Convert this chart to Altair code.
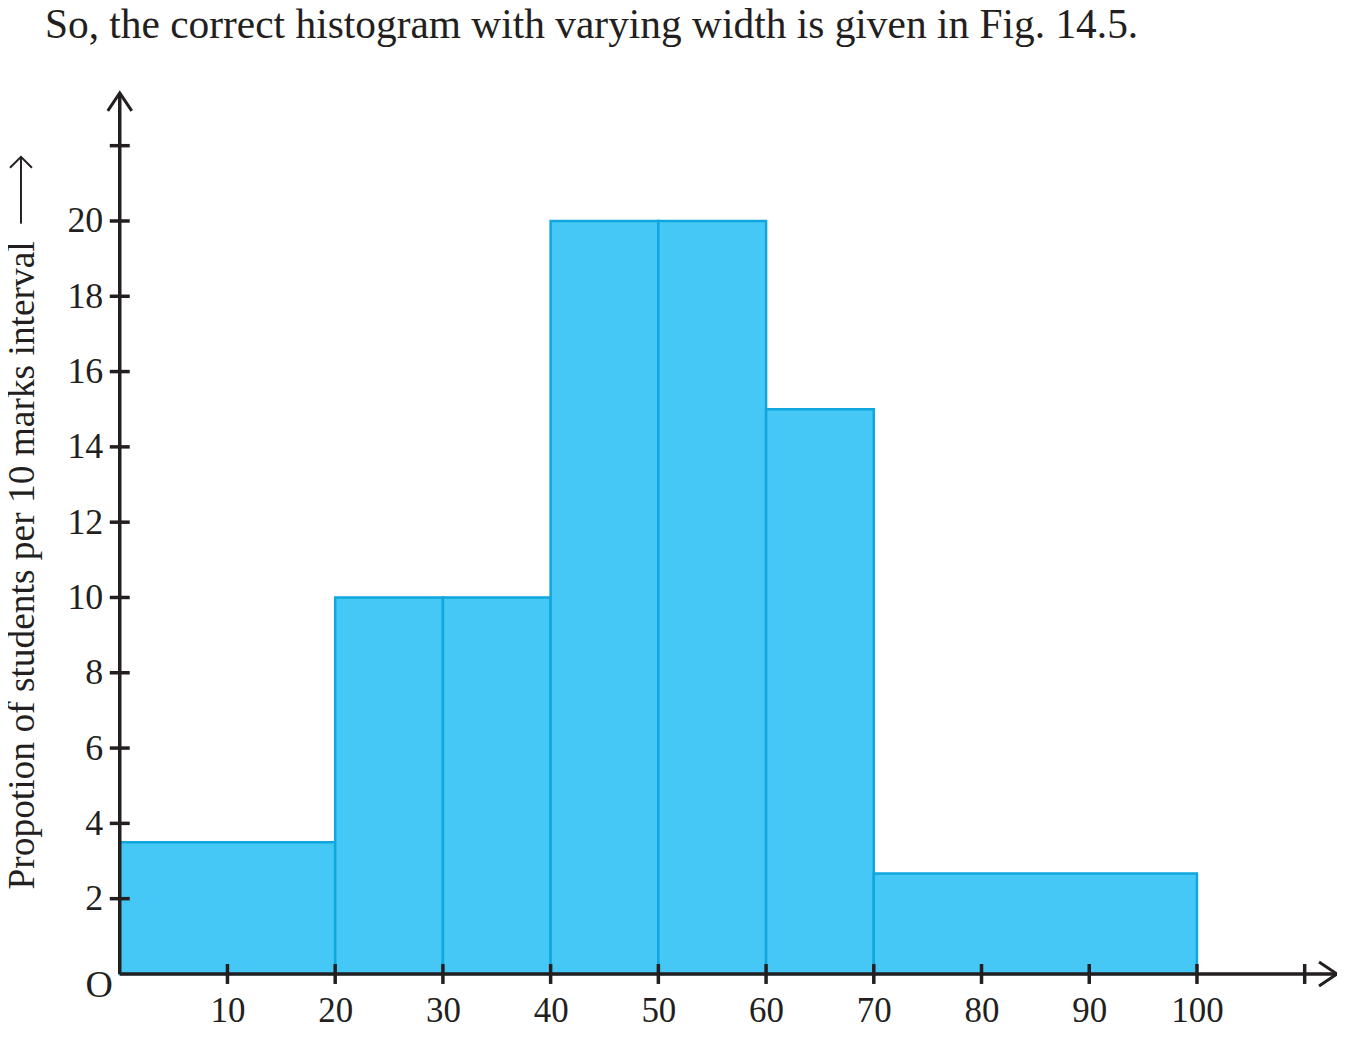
import altair as alt
import pandas as pd

# Histogram bins (varying width) and adjusted heights
bin_start = [0, 20, 30, 40, 50, 60, 70]
bin_end = [20, 30, 40, 50, 60, 70, 100]
heights = [3.5, 10, 10, 20, 20, 15, 8 / 3]

x_tick_values = [10, 20, 30, 40, 50, 60, 70, 80, 90, 100, 110]
x_label_values = [10, 20, 30, 40, 50, 60, 70, 80, 90, 100]
y_tick_values = [2, 4, 6, 8, 10, 12, 14, 16, 18, 20, 22]
y_label_values = [2, 4, 6, 8, 10, 12, 14, 16, 18, 20]

X_MAX = 113.0
Y_MAX = 23.4

title_text = ["So, the correct histogram with varying width is given in Fig. 14.5."]
y_title = "Propotion of students per 10 marks interval"

INK = "#231f20"
FONT = "Liberation Serif"

bars_df = pd.DataFrame({"start": bin_start, "end": bin_end, "h": heights, "base": [0] * len(heights)})
xt_df = pd.DataFrame({"x": x_tick_values, "y": [0] * len(x_tick_values)})
yt_df = pd.DataFrame({"y": y_tick_values, "x": [0] * len(y_tick_values)})
xaxis_df = pd.DataFrame({"x": [0], "x2": [X_MAX], "y": [0]})
yaxis_df = pd.DataFrame({"y": [0], "y2": [Y_MAX], "x": [0]})
arrow_x_df = pd.DataFrame({"x": [X_MAX], "y": [0]})
arrow_y_df = pd.DataFrame({"x": [0], "y": [Y_MAX]})
origin_df = pd.DataFrame({"x": [0], "y": [0], "t": ["O"]})
note_df = pd.DataFrame({"k": [0]})
title_df = pd.DataFrame({"t": title_text})

xscale = alt.Scale(domain=[0, X_MAX], nice=False, zero=False)
yscale = alt.Scale(domain=[0, Y_MAX], nice=False, zero=False)

xaxis = alt.Axis(values=x_label_values, domain=False, ticks=False, grid=False,
                 labelFont=FONT, labelFontSize=35, labelColor=INK, labelPadding=20,
                 title=None, labelFlush=False)
yaxis = alt.Axis(values=y_label_values, domain=False, ticks=False, grid=False,
                 labelFont=FONT, labelFontSize=36, labelColor=INK, labelPadding=17,
                 title=y_title, titleFont=FONT, titleFontSize=37.5, titleFontWeight="normal",
                 titleColor=INK, titleAngle=270, titleBaseline="middle", titleAlign="center",
                 titleX=-97, titleY=473)

bars = alt.Chart(bars_df).mark_rect(fill="#45c8f5", stroke="#10a6de", strokeWidth=2.5).encode(
    x=alt.X("start:Q", scale=xscale, axis=xaxis),
    x2="end:Q",
    y=alt.Y("h:Q", scale=yscale, axis=yaxis),
    y2="base:Q",
)

x_line = alt.Chart(xaxis_df).mark_rule(color=INK, strokeWidth=3.5).encode(
    x=alt.X("x:Q", scale=xscale), x2="x2:Q", y=alt.Y("y:Q", scale=yscale))
y_line = alt.Chart(yaxis_df).mark_rule(color=INK, strokeWidth=3.5).encode(
    y=alt.Y("y:Q", scale=yscale), y2="y2:Q", x=alt.X("x:Q", scale=xscale))

x_ticks = alt.Chart(xt_df).mark_tick(orient="vertical", size=20, thickness=3.5, color=INK, opacity=1).encode(
    x=alt.X("x:Q", scale=xscale), y=alt.Y("y:Q", scale=yscale))
y_ticks = alt.Chart(yt_df).mark_tick(orient="horizontal", size=20, thickness=3.5, color=INK, opacity=1).encode(
    x=alt.X("x:Q", scale=xscale), y=alt.Y("y:Q", scale=yscale))

arrow_x = alt.Chart(arrow_x_df).mark_point(
    shape="M -1.5 -1 L 0 0 L -1.5 1", size=576, filled=False, stroke=INK, strokeWidth=3, opacity=1
).encode(x=alt.X("x:Q", scale=xscale), y=alt.Y("y:Q", scale=yscale))
arrow_y = alt.Chart(arrow_y_df).mark_point(
    shape="M -1 1.5 L 0 0 L 1 1.5", size=576, filled=False, stroke=INK, strokeWidth=3, opacity=1
).encode(x=alt.X("x:Q", scale=xscale), y=alt.Y("y:Q", scale=yscale))

# the small arrow that follows the y-axis title
title_arrow_line = alt.Chart(note_df).mark_rule(color=INK, strokeWidth=2).encode(
    x=alt.value(-99), y=alt.value(64), y2=alt.value(131))
title_arrow_head = alt.Chart(note_df).mark_point(
    shape="M -1 1 L 0 0 L 1 1", size=484, filled=False, stroke=INK, strokeWidth=2, opacity=1
).encode(x=alt.value(-99), y=alt.value(64))

origin = alt.Chart(origin_df).mark_text(font=FONT, fontSize=38, color=INK, align="right",
                                        baseline="middle", dx=-7, dy=12).encode(
    x=alt.X("x:Q", scale=xscale), y=alt.Y("y:Q", scale=yscale), text="t:N")

heading = alt.Chart(title_df).mark_text(font=FONT, fontSize=41.5, color=INK, align="left",
                                        baseline="alphabetic").encode(
    x=alt.value(-75), y=alt.value(-55), text="t:N")

chart = alt.layer(bars, x_line, y_line, x_ticks, y_ticks, arrow_x, arrow_y,
                  title_arrow_line, title_arrow_head, origin, heading).properties(
    width=1220,
    height=883,
    autosize=alt.AutoSizeParams(type="none"),
    padding={"left": 112, "top": 84, "right": 0, "bottom": 55},
).configure_view(stroke=None)

chart.save("out.html", embed_options={"renderer": "svg", "actions": False})
